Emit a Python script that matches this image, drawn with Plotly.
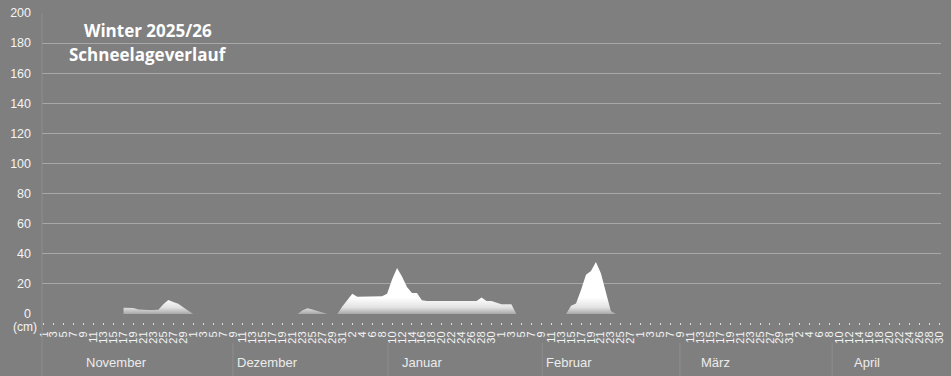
import pandas as pd
import plotly.graph_objects as go

# ---------------- data ----------------
season_start = "2025-11-01"
season_end = "2026-04-30"

# snow depth in cm, one value per day (None = no record)
nov_cm = [None, None, None, None, None, None, None, None, None, None,
          None, None, None, None, None, None, 4.2, 4.2, 4.0, 3.0,
          2.6, 2.6, 2.6, 2.8, 6.5, 9.3, 8.0, 6.8, 4.5, 2.0]
dec_cm = [0, 0, 0, 0, 0, 0, 0, 0, 0, 0,
          0, 0, 0, 0, 0, 0, 0, 0, 0, 0,
          0, 0, 2.5, 3.8, 3.0, 2.0, 1.0, 0, 0, 0, 5.0]
jan_cm = [9.5, 13.5, 11.5, 11.5, 11.5, 11.5, 11.5, 11.8, 13.5, 23.0,
          30.5, 25.0, 18.0, 14.0, 14.0, 9.2, 8.7, 8.7, 8.7, 8.7,
          8.7, 8.7, 8.7, 8.7, 8.7, 8.7, 8.7, 11.0, 8.7, 8.7, 7.5]
feb_cm = [6.4, 6.4, 6.4, 0, 0, 0, 0, 0, 0, 0,
          0, 0, 0, 0, 5.5, 7.0, 16.0, 26.0, 28.5, 34.5,
          27.0, 15.0, 2.0, 0, 0, 0, 0, 0]
mar_cm = [0, 0, 0, 0, 0, 0, 0, 0, 0, 0,
          0, 0, 0, 0, 0, 0, 0, 0, 0, 0,
          0, 0, 0, 0, 0, 0, 0, 0, 0, 0, 0]
apr_cm = [0, 0, 0, 0, 0, 0, 0, 0, 0, 0,
          0, 0, 0, 0, 0, 0, 0, 0, 0, 0,
          0, 0, 0, 0, 0, 0, 0, 0, 0, 0]

month_names = ["November", "Dezember", "Januar", "Februar", "März", "April"]
y_ticks = [0, 20, 40, 60, 80, 100, 120, 140, 160, 180, 200]
y_ticktext = ["0", "20", "40", "60", "80", "100", "120", "140", "160", "180", "200"]
title_lines = ["Winter 2025/26", "Schneelageverlauf"]
unit_label = "(cm)"

# ---------------- build ----------------
dates = pd.date_range(season_start, season_end, freq="D")
snow = nov_cm + dec_cm + jan_cm + feb_cm + mar_cm + apr_cm
day_idx = list(range(len(dates)))
day_labels = [str(d.day) for d in dates]

tick_idx = day_idx[::2]
tick_text = day_labels[::2]

# month centres (day index) from the dates
month_keys = [(d.year, d.month) for d in dates]
month_mid = []
for key in dict.fromkeys(month_keys):
    idx = [i for i, k in enumerate(month_keys) if k == key]
    month_mid.append((idx[0] + idx[-1]) / 2)

# layout helpers (pixels)
W, H = 951, 376
ML, MR, MT, MB = 42, 10, 13, 0
paper_h = H - MT - MB
def py(pix):
    return (H - MB - pix) / paper_h

BG = "#7f7f7f"
GRID = "#a8a8a8"
TXT = "#f4f4f4"
DIV = "#8e8e8e"

fig = go.Figure()
fig.add_trace(go.Scatter(
    x=day_idx, y=snow, mode="lines",
    line=dict(width=0, color="white"),
    fill="tozeroy",
    fillgradient=dict(type="vertical", start=0, stop=11,
                      colorscale=[[0, "#a8a8a8"], [0.4, "#e2e2e2"], [1, "#ffffff"]]),
    connectgaps=False, hoverinfo="skip", showlegend=False,
))

# month separators in the label band
divider_pos = [38.0, 69.2, 100.2, 127.9, 158.5]
shapes = [dict(type="line", xref="paper", yref="paper", x0=0, x1=0, y0=0, y1=1,
               line=dict(color=DIV, width=1))]
for p in divider_pos:
    shapes.append(dict(type="line", xref="x", yref="paper", x0=p, x1=p,
                       y0=0, y1=py(343), line=dict(color=DIV, width=1)))

annotations = []
for name, mid in zip(month_names, month_mid):
    annotations.append(dict(x=mid, y=py(362), xref="x", yref="paper", text=name,
                            showarrow=False, xanchor="center", yanchor="middle",
                            font=dict(family="Liberation Sans", size=13, color="#ececec")))
annotations.append(dict(x=0, y=0, xref="paper", yref="y", text=unit_label,
                        showarrow=False, xanchor="center", yanchor="middle",
                        xshift=-17.5, yshift=-12.5,
                        font=dict(family="Liberation Sans", size=12, color=TXT)))
for txt, pix in zip(title_lines, [31, 54]):
    annotations.append(dict(x=(148 - ML) / (W - ML - MR), y=py(pix), xref="paper", yref="paper",
                            text="<b>" + txt + "</b>", showarrow=False,
                            xanchor="center", yanchor="middle",
                            font=dict(family="Open Sans", size=17, color="white")))

fig.update_layout(
    width=W, height=H,
    margin=dict(l=ML, r=MR, t=MT, b=MB, pad=0, autoexpand=False),
    paper_bgcolor=BG, plot_bgcolor=BG,
    showlegend=False,
    shapes=shapes,
    annotations=annotations,
    xaxis=dict(
        range=[-0.4, len(dates) - 1 + 0.4],
        anchor="free", position=py(322), automargin=False,
        tickmode="array", tickvals=tick_idx, ticktext=tick_text,
        tickangle=-90, ticks="outside", ticklen=2, tickwidth=1, tickcolor="#dcdcdc",
        ticklabelstandoff=2,
        tickfont=dict(family="Liberation Sans", size=11, color=TXT),
        showgrid=False, zeroline=False, showline=False, fixedrange=True,
    ),
    yaxis=dict(
        domain=[py(314), 1], range=[0, 200], automargin=False,
        tickmode="array", tickvals=y_ticks, ticktext=y_ticktext,
        ticks="", ticklabelstandoff=10,
        tickfont=dict(family="Liberation Sans", size=12.5, color=TXT),
        showgrid=True, gridcolor=GRID, gridwidth=1,
        zeroline=False, showline=False, fixedrange=True,
    ),
)

fig.write_html("out.html")
